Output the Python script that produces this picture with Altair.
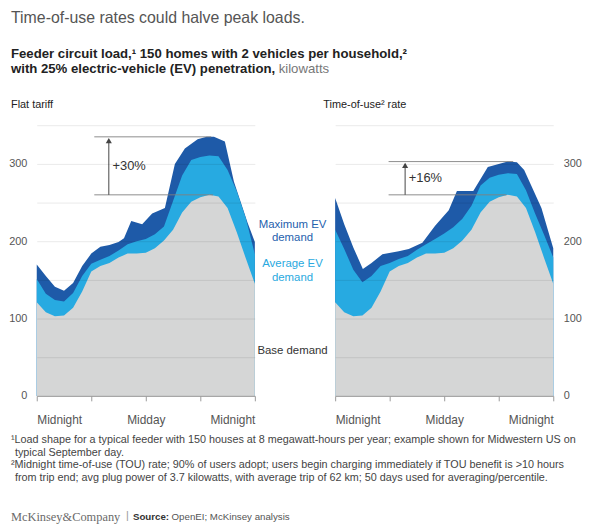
import altair as alt
import pandas as pd

FONT = "Liberation Sans"
DARK = "#1e5aa8"
LIGHT = "#27aae1"
GRAY = "#d5d6d6"

# ---------------- data (kilowatts by hour of day) ----------------
hours = list(range(25))
base_demand = [121, 108, 103, 104, 114, 135, 161, 168, 172, 179, 184, 184, 185,
               191, 201, 215, 237, 251, 257, 260, 258, 243, 212, 178, 145]

flat_avg = [151, 132, 124, 122, 133, 155, 171, 176, 181, 188, 196, 200, 203,
            209, 219, 252, 285, 305, 309, 311, 310, 292, 265, 230, 183]
flat_max_hours = [0, 1, 2, 3, 4, 5, 6, 7, 8, 9, 9.6, 10.4, 11.6, 12.7, 14.1,
                  15.2, 16.3, 17.7, 18.7, 19.5, 20.7, 21.7, 23.2, 24]
flat_max = [170, 155, 141, 136, 146, 168, 184, 193, 195, 199, 204, 226, 222, 236, 243,
            300, 320, 332, 335, 335, 329, 277, 224, 199]

tou_avg = [215, 190, 163, 147, 155, 168, 172, 177, 181, 189, 196, 203, 210,
           218, 229, 246, 272, 282, 286, 288, 287, 266, 236, 208, 179]
tou_max_hours = [0, 1, 2, 3.05, 4, 5.2, 7, 8.1, 9.6, 11, 12.5, 13.4, 15.2, 16.8,
                 19, 20, 20.8, 22.7, 24]
tou_max = [256, 222, 192, 164, 172, 183, 187, 190, 198, 220, 240, 265, 265, 296,
           303, 302, 292, 243, 191]

# peak annotations: [EV peak, base peak]
flat_peaks = [335, 260]
tou_peaks = [303, 260]
flat_label = "+30%"
tou_label = "+16%"

x_ticks = [0, 6, 12, 18, 24]
y_grid = [0, 50, 100, 150, 200, 250, 300, 350]

title_text = "Time-of-use rates could halve peak loads."
subtitle_1 = "Feeder circuit load,\u00b9 150 homes with 2 vehicles per household,\u00b2"
subtitle_2 = "with 25% electric-vehicle (EV) penetration,"
subtitle_unit = "kilowatts"
panel_titles = ["Flat tariff", "Time-of-use\u00b2 rate"]
legend_max = ["Maximum EV", "demand"]
legend_avg = ["Average EV", "demand"]
legend_base = "Base demand"
footnotes = [
    "\u00b9Load shape for a typical feeder with 150 houses at 8 megawatt-hours per year; example shown for Midwestern US on",
    "typical September day.",
    "\u00b2Midnight time-of-use (TOU) rate; 90% of users adopt; users begin charging immediately if TOU benefit is >10 hours",
    "from trip end; avg plug power of 3.7 kilowatts, with average trip of 62 km; 50 days used for averaging/percentile.",
]
source_parts = ["McKinsey&Company", "|", "Source:", "OpenEI; McKinsey analysis"]

# ---------------- helpers ----------------
xscale = alt.Scale(domain=[0, 24], nice=False, zero=False)
yscale = alt.Scale(domain=[0, 350], nice=False)

xaxis = alt.Axis(values=x_ticks,
                 labelExpr="datum.value == 12 ? 'Midday' : (datum.value % 24 == 0 ? 'Midnight' : '')",
                 labelFlush=True, labelOverlap=False, domainColor="#9a9a9a", tickColor="#9a9a9a",
                 tickSize=5, labelPadding=14, labelFontSize=12, labelColor="#555", labelFont=FONT,
                 grid=False, title=None, zindex=1)


def yaxis(orient):
    return alt.Axis(values=y_grid, orient=orient,
                    labelExpr="datum.value % 100 == 0 ? datum.label : ''",
                    domain=False, ticks=False, grid=True, gridColor="#000", gridOpacity=0.09,
                    labelPadding=10, labelFontSize=11, labelColor="#555", labelFont=FONT,
                    labelFlush=False, labelOverlap=False, title=None, zindex=1)


def X(f):
    return alt.X(f"{f}:Q", scale=xscale, axis=xaxis)


def Y(f, orient):
    return alt.Y(f"{f}:Q", scale=yscale, axis=yaxis(orient))


def area(h, v, color, orient):
    df = pd.DataFrame({"hour": h, "kw": v})
    return alt.Chart(df).mark_area(color=color, opacity=1, interpolate="linear").encode(
        x=X("hour"), y=Y("kw", orient))


def txt(s, x, y, size=11, color="#222", weight="normal", align="left", font=FONT):
    return alt.Chart(pd.DataFrame({"t": [s]})).mark_text(
        align=align, baseline="middle", fontSize=size, color=color, fontWeight=weight, font=font
    ).encode(text="t:N", x=alt.value(x), y=alt.value(y))


def annotation(peaks, label, x_start, x_end_top, x_end_base, x_arrow, orient):
    lines = pd.DataFrame({"x": [x_start, x_start], "x2": [x_end_top, x_end_base], "y": peaks})
    rules = alt.Chart(lines).mark_rule(color="#808080", strokeWidth=0.9).encode(
        x=X("x"), x2="x2:Q", y=Y("y", orient))
    arrow_df = pd.DataFrame({"x": [x_arrow], "y": [peaks[1]], "y2": [peaks[0] - 5]})
    shaft = alt.Chart(arrow_df).mark_rule(color="#444", strokeWidth=1).encode(
        x=X("x"), y=Y("y", orient), y2="y2:Q")
    head = alt.Chart(arrow_df).mark_point(shape="triangle-up", filled=True, size=38,
                                          color="#444", opacity=1).encode(
        x=X("x"), y=alt.Y("y2:Q", scale=yscale, axis=yaxis(orient)))
    lab_df = pd.DataFrame({"x": [x_arrow + 0.4], "y": [(peaks[0] + peaks[1]) / 2], "t": [label]})
    lab = alt.Chart(lab_df).mark_text(align="left", baseline="middle", fontSize=13,
                                      color="#333", font=FONT).encode(
        x=X("x"), y=Y("y", orient), text="t:N")
    return [rules, shaft, head, lab]


# ---------------- left panel ----------------
left_layers = [
    area(flat_max_hours, flat_max, DARK, "left"),
    area(hours, flat_avg, LIGHT, "left"),
    area(hours, base_demand, GRAY, "left"),
] + annotation(flat_peaks, flat_label, 6.33, 19.2, 19.4, 7.93, "left") + [
    txt(title_text, -26, -108, size=16, color="#555"),
    txt(subtitle_1, -26, -72, size=13.3, color="#222", weight="bold"),
    txt(subtitle_2, -26, -57, size=13.3, color="#222", weight="bold"),
    txt(subtitle_unit, 244, -57, size=13.3, color="#777"),
    txt(panel_titles[0], -26, -20, size=11, color="#222"),
    txt(legend_max[0], 258, 101, size=11.5, color="#2561ad", align="center"),
    txt(legend_max[1], 258, 114, size=11.5, color="#2561ad", align="center"),
    txt(legend_avg[0], 258, 140, size=11.5, color="#29a9e0", align="center"),
    txt(legend_avg[1], 258, 154, size=11.5, color="#29a9e0", align="center"),
    txt(legend_base, 258, 228, size=11.5, color="#333", align="center"),
    txt(footnotes[0], -26, 318, size=10.9, color="#444"),
    txt(footnotes[1], -22, 330.5, size=10.9, color="#444"),
    txt(footnotes[2], -26, 343, size=10.9, color="#444"),
    txt(footnotes[3], -22, 355.5, size=10.9, color="#444"),
    txt(source_parts[0], -26, 395, size=12.5, color="#6a6a6a", font="Liberation Serif"),
    txt(source_parts[1], 90, 394, size=11, color="#999"),
    txt(source_parts[2], 97, 395, size=9.8, color="#333", weight="bold"),
    txt(source_parts[3], 136, 395, size=9.8, color="#555"),
]
left = alt.layer(*left_layers).properties(width=220, height=273)

# ---------------- right panel ----------------
right_layers = [
    area(tou_max_hours, tou_max, DARK, "right"),
    area(hours, tou_avg, LIGHT, "right"),
    area(hours, base_demand, GRAY, "right"),
] + annotation(tou_peaks, tou_label, 5.88, 19.6, 18.85, 7.7, "right") + [
    txt(panel_titles[1], -12, -20, size=11, color="#222"),
]
right = alt.layer(*right_layers).properties(width=220, height=273)

chart = alt.hconcat(left, right, spacing=81, bounds="flush").properties(
    padding=0).configure_view(stroke=None)

chart.save("out.html", embed_options={"renderer": "svg", "actions": False})
